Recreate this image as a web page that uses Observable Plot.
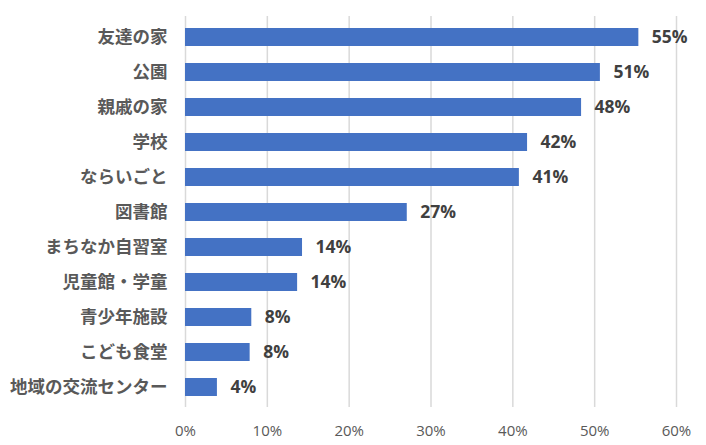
<!DOCTYPE html>
<html>
<head>
<meta charset="utf-8">
<script src="https://cdn.jsdelivr.net/npm/d3@7"></script>
<script src="https://cdn.jsdelivr.net/npm/@observablehq/plot@0.6"></script>
<style>
  html, body { margin: 0; padding: 0; background: #fff; }
  #chart svg { display: block; }
</style>
</head>
<body>
<div id="chart"></div>
<script>
const categories = ["友達の家", "公園", "親戚の家", "学校", "ならいごと", "図書館", "まちなか自習室", "児童館・学童", "青少年施設", "こども食堂", "地域の交流センター"];
const values = [55.4, 50.7, 48.4, 41.8, 40.8, 27.1, 14.3, 13.7, 8.1, 7.9, 3.9];
const valueLabels = ["55%", "51%", "48%", "42%", "41%", "27%", "14%", "14%", "8%", "8%", "4%"];
const xTicks = [0, 10, 20, 30, 40, 50, 60];

const data = categories.map((c, i) => ({category: c, value: values[i], label: valueLabels[i]}));

const chart = Plot.plot({
  width: 706,
  height: 445,
  marginLeft: 185,
  marginRight: 30,
  marginTop: 16,
  marginBottom: 38,
  style: {fontFamily: "'Open Sans', 'Noto Sans CJK JP', sans-serif", background: "#fff"},
  x: {domain: [0, 60], ticks: xTicks},
  y: {domain: categories, paddingInner: 0.49, paddingOuter: 0.245},
  marks: [
    Plot.gridX(xTicks, {stroke: "#d9d9d9", strokeOpacity: 1, strokeWidth: 1.5}),
    Plot.barX(data, {x: "value", y: "category", fill: "#4472C4"}),
    Plot.text(data, {x: "value", y: "category", text: "label", textAnchor: "start", dx: 13,
      fontSize: 17.5, fontWeight: "bold", fill: "#404040", fontFamily: "'Open Sans', sans-serif"}),
    Plot.axisX(xTicks, {tickSize: 0, tickPadding: 18, fontSize: 15, fill: "#595959",
      tickFormat: d => d + "%", label: null, fontFamily: "'Open Sans', sans-serif"}),
    Plot.axisY({tickSize: 0, tickPadding: 18, fontSize: 17.5, fontWeight: "bold", fill: "#595959",
      label: null, fontFamily: "'Noto Sans CJK JP', sans-serif"})
  ]
});
document.getElementById("chart").appendChild(chart);
</script>
</body>
</html>
